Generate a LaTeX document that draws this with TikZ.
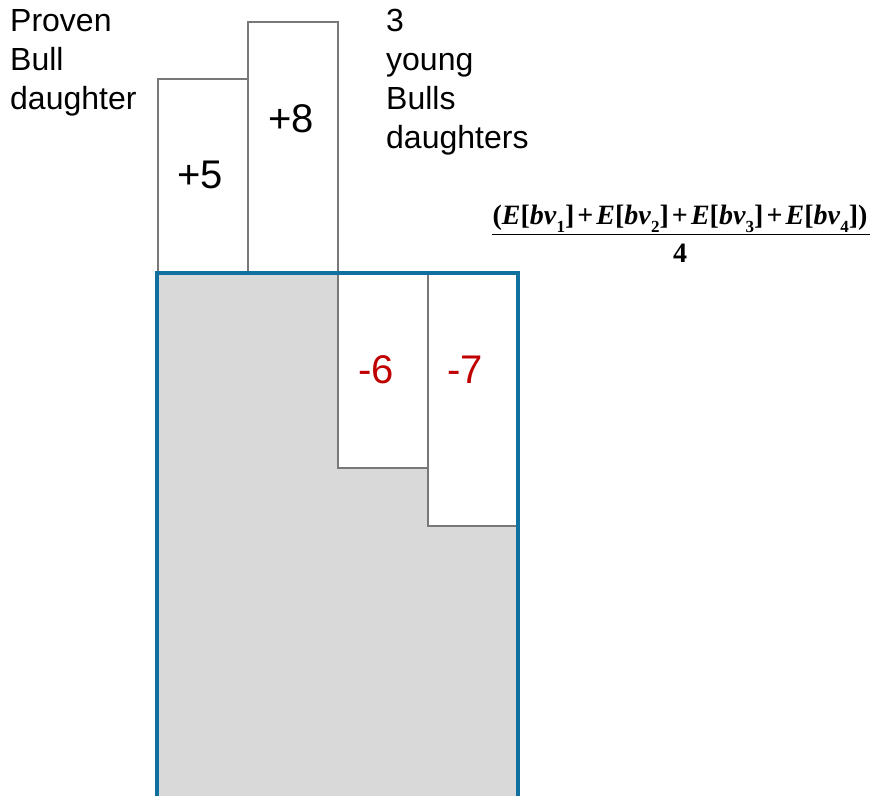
\documentclass[tikz,border=0pt]{standalone}
\usepackage{fontspec}
\setmainfont{Liberation Sans}
\newfontfamily\formfont{Liberation Serif}
\usepackage{tikz}
\usetikzlibrary{positioning}
\definecolor{edgeblue}{RGB}{16,112,158}
\definecolor{negred}{RGB}{192,0,0}
\definecolor{boxgrey}{RGB}{120,120,120}
\tikzstyle{valbox} = [draw=boxgrey, fill=white, line width=2]
\tikzstyle{label} = [inner sep=0, align=left, anchor=north west, font=\fontsize{32}{39}\selectfont]
\tikzstyle{value} = [inner sep=0, anchor=base, font=\fontsize{40}{48}\selectfont]
\tikzstyle{fracpart} = [inner sep=0, anchor=base, font=\formfont\bfseries\fontsize{28}{32}\selectfont]
\newcommand{\bvsub}[1]{\raisebox{-0.3em}{\fontsize{17}{17}\selectfont #1}}
\newcommand{\bvterm}[1]{\textit{E}[\textit{bv}\bvsub{#1}]}
\newcommand{\bplus}{\hspace{0.11em}+\hspace{0.11em}}

\begin{document}
\begin{tikzpicture}[x=1pt, y=-1pt]
  \useasboundingbox (0,0) rectangle (871,796);

  % grey block
  \fill[black!15] (157,273) rectangle (518,796);

  % daughter boxes
  \draw[valbox] (158,79) rectangle (248,273);
  \draw[valbox] (248,22) rectangle (338,273);
  \draw[valbox] (338,273) rectangle (428,468);
  \draw[valbox] (428,273) rectangle (518,526);

  % blue outline
  \draw[edgeblue, line width=4.5] (157,796) -- (157,273) -- (518,273) -- (518,796);

  \node[value] (p5) at (200,188) {+5};
  \node[value] (p8) at (291,132) {+8};
  \node[value, text=negred] (m6) at (376,383) {-6};
  \node[value, text=negred] (m7) at (465,383) {-7};

  \node[label] (proven) at (10,9) {Proven\\Bull\\daughter};
  \node[label] (young) at (386,9) {3\\young\\Bulls\\daughters};

  \node[fracpart] (num) at (680,224) {(\bvterm{1}\bplus\bvterm{2}\bplus\bvterm{3}\bplus\bvterm{4})};
  \node[fracpart] (den) at (680,262) {4};
  \draw[line width=1.8] (492,234.5) -- (870,234.5);
\end{tikzpicture}
\end{document}
